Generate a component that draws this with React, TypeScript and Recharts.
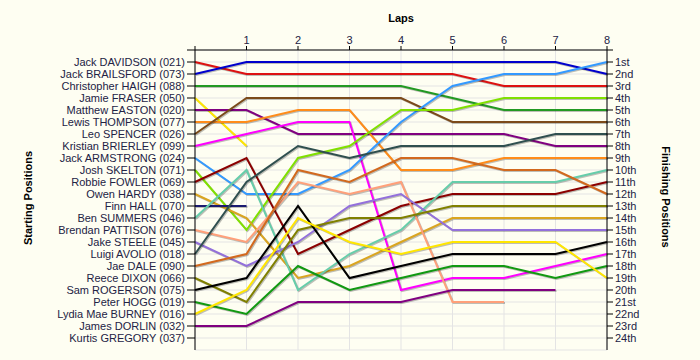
import { LineChart, Line, XAxis, YAxis, CartesianGrid } from 'recharts';

const laps = [0, 1, 2, 3, 4, 5, 6, 7, 8];

const drivers = [
  'Jack DAVIDSON (021)',
  'Jack BRAILSFORD (073)',
  'Christopher HAIGH (088)',
  'Jamie FRASER (050)',
  'Matthew EASTON (020)',
  'Lewis THOMPSON (077)',
  'Leo SPENCER (026)',
  'Kristian BRIERLEY (099)',
  'Jack ARMSTRONG (024)',
  'Josh SKELTON (071)',
  'Robbie FOWLER (069)',
  'Owen HARDY (038)',
  'Finn HALL (070)',
  'Ben SUMMERS (046)',
  'Brendan PATTISON (076)',
  'Jake STEELE (045)',
  'Luigi AVOLIO (018)',
  'Jae DALE (090)',
  'Reece DIXON (066)',
  'Sam ROGERSON (075)',
  'Peter HOGG (019)',
  'Lydia Mae BURNEY (016)',
  'James DORLIN (032)',
  'Kurtis GREGORY (037)',
];

const finishLabels = [
  '1st', '2nd', '3rd', '4th', '5th', '6th', '7th', '8th', '9th', '10th', '11th', '12th',
  '13th', '14th', '15th', '16th', '17th', '18th', '19th', '20th', '21st', '22nd', '23rd', '24th',
];

// running position at the end of each lap (lap 0 = grid), null once out of the race
const racePositions: (number | null)[][] = [
  [1, 2, 2, 2, 2, 2, 3, 3, 3], // DAVIDSON
  [2, 1, 1, 1, 1, 1, 1, 1, 2], // BRAILSFORD
  [3, 3, 3, 3, 3, 4, 5, 5, 5], // HAIGH
  [4, 8], // FRASER
  [5, 5, 7, 7, 7, 7, 7, 8, 8], // EASTON
  [6, 6, 5, 5, 10, 10, 9, 9, 9], // THOMPSON
  [7, 4, 4, 4, 4, 6, 6, 6, 6], // SPENCER
  [8, 7, 6, 6, 20, 19, 19, 18, 17], // BRIERLEY
  [9, 12, 12, 10, 6, 3, 2, 2, 1], // ARMSTRONG
  [10, 15, 9, 8, 5, 5, 4, 4, 4], // SKELTON
  [11, 9, 17, 15, 13, 12, 12, 12, 11], // FOWLER
  [12, 14, 19, 18, 16, 14, 14, 14, 14], // HARDY
  [13, 13], // HALL
  [14, 10, 20, 17, 15, 11, 11, 11, 10], // SUMMERS
  [15, 16, 11, 12, 11, 21, 21], // PATTISON
  [16, 18, 16, 13, 12, 15, 15, 15, 15], // STEELE
  [17, 11, 8, 9, 8, 8, 8, 7, 7], // AVOLIO
  [18, 17, 10, 11, 9, 9, 10, 10, 12], // DALE
  [19, 21, 15, 14, 14, 13, 13, 13, 13], // DIXON
  [20, 19, 13, 19, 18, 17, 17, 17, 16], // ROGERSON
  [21, 22, 18, 20, 19, 18, 18, 19, 18], // HOGG
  [22, 20, 14, 16, 17, 16, 16, 16, 19], // BURNEY
  [23, 23, 21, 21, 21, 20, 20, 20], // DORLIN
  [], // GREGORY
];

const lineColors = [
  '#DD1111', '#0000CC', '#229922', '#FFE600', '#800080', '#FF8C1A', '#7B4A1A', '#FF00FF',
  '#3399FF', '#80E000', '#8B0000', '#DAA520', '#1A1A70', '#66CDAA', '#FFA07A', '#9370DB',
  '#2F4F4F', '#D2691E', '#808000', '#000000', '#119911', '#FFE600', '#800080', '#888888',
];

const posTicks = Array.from({ length: 25 }, (_, i) => i);

const chartData = laps.map((lap, i) => {
  const row: any = { lap };
  racePositions.forEach((p, d) => {
    row['d' + d] = p[i] ?? null;
  });
  return row;
});

const textColor = '#222244';
const font = '"Liberation Sans", Arial, sans-serif';

const App = () => {
  return (
    <div style={{ width: 700, height: 360, background: '#FEFEF2', fontFamily: font }}>
      <style>{`body{margin:0;background:#FEFEF2}.recharts-line-curve{filter:drop-shadow(1px 1px 0 rgba(0,0,0,0.25))}`}</style>
      <LineChart width={700} height={360} data={chartData} margin={{ top: 20, right: 0, bottom: 10, left: 0 }}>
        <CartesianGrid yAxisId="left" stroke="#E4E4E4" />
        <XAxis
          dataKey="lap"
          type="number"
          domain={[0, 8]}
          ticks={laps}
          orientation="top"
          height={30}
          tickSize={4}
          tickMargin={2}
          stroke="#000"
          tick={{ fill: textColor, fontSize: 11 }}
          tickFormatter={(v: number) => (v === 0 ? '' : String(v))}
          label={{
            content: () => (
              <text x={401} y={22} textAnchor="middle" fontSize={11} fontWeight="bold" fill="#000">
                Laps
              </text>
            ),
          }}
        />
        <YAxis
          yAxisId="left"
          type="number"
          domain={[0, 25]}
          reversed
          ticks={posTicks}
          interval={0}
          width={195}
          tickSize={8}
          tickMargin={2}
          stroke="#000"
          tick={{ fill: textColor, fontSize: 11 }}
          tickFormatter={(v: number) => (v === 0 ? '' : drivers[v - 1])}
          label={{
            content: () => (
              <text x={32} y={198} transform="rotate(-90 32 198)" textAnchor="middle" fontSize={11} fontWeight="bold" fill="#000">
                Starting Positions
              </text>
            ),
          }}
        />
        <YAxis
          yAxisId="right"
          orientation="right"
          type="number"
          domain={[0, 25]}
          allowDataOverflow
          reversed
          ticks={posTicks}
          interval={0}
          width={93}
          tickSize={6}
          tickMargin={2}
          stroke="#000"
          tick={{ fill: textColor, fontSize: 11 }}
          tickFormatter={(v: number) => (v === 0 ? '' : finishLabels[v - 1])}
          label={{
            content: () => (
              <text x={662} y={197} transform="rotate(90 662 197)" textAnchor="middle" fontSize={11} fontWeight="bold" fill="#000">
                Finishing Positions
              </text>
            ),
          }}
        />
        {drivers.map((name, d) => (
          <Line
            key={name}
            yAxisId="left"
            type="linear"
            dataKey={'d' + d}
            name={name}
            stroke={lineColors[d]}
            strokeWidth={2}
            dot={false}
            activeDot={false}
            isAnimationActive={false}
          />
        ))}
      </LineChart>
    </div>
  );
};

export default App;
